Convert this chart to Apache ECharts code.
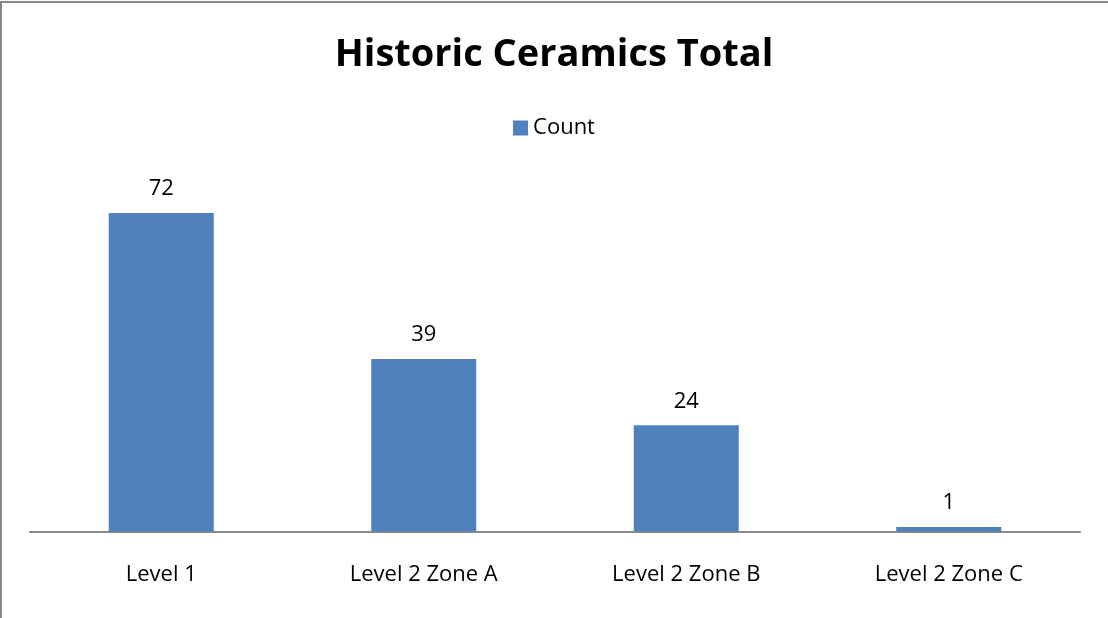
<!DOCTYPE html>
<html>
<head>
<meta charset="utf-8">
<script src="https://cdn.jsdelivr.net/npm/echarts@6/dist/echarts.min.js"></script>
<style>
html, body { margin: 0; padding: 0; background: #fff; }
#frame { position: absolute; left: 0; top: 1px; width: 1108px; height: 617px; border-top: 2px solid #888; border-left: 2px solid #888; box-sizing: border-box; }
#chart { position: absolute; left: 0; top: 0; width: 1108px; height: 618px; }
</style>
</head>
<body>
<div id="chart"></div>
<div id="frame"></div>
<script>
var categories = ['Level 1', 'Level 2 Zone A', 'Level 2 Zone B', 'Level 2 Zone C'];
var counts = [72, 39, 24, 1];

var chart = echarts.init(document.getElementById('chart'));
var font = 'Open Sans, Noto Sans, sans-serif';

var option = {
    animation: false,
    title: {
        text: 'Historic Ceramics Total',
        left: 'center',
        top: 31,
        textStyle: { fontFamily: font, fontSize: 38, fontWeight: 'bold', color: '#000' }
    },
    legend: {
        data: ['Count'],
        top: 112,
        left: 'center',
        icon: 'rect',
        itemWidth: 15,
        itemHeight: 15,
        itemGap: 6,
        textStyle: { fontFamily: font, fontSize: 22, color: '#000' }
    },
    grid: { left: 30, right: 28, top: 177.5, bottom: 86.5 },
    xAxis: {
        type: 'category',
        data: categories,
        axisLine: { lineStyle: { color: '#888', width: 2 } },
        axisTick: { show: false },
        axisLabel: { fontFamily: font, fontSize: 22, color: '#000', margin: 32 }
    },
    yAxis: {
        type: 'value',
        min: 0,
        max: 80,
        show: false,
        splitLine: { show: false }
    },
    series: [{
        name: 'Count',
        type: 'bar',
        data: counts,
        barWidth: '40%',
        itemStyle: { color: '#4f81bd' },
        label: {
            show: true,
            position: 'top',
            distance: 13,
            fontFamily: font,
            fontSize: 22,
            color: '#000'
        }
    }]
};

chart.setOption(option);
</script>
</body>
</html>
